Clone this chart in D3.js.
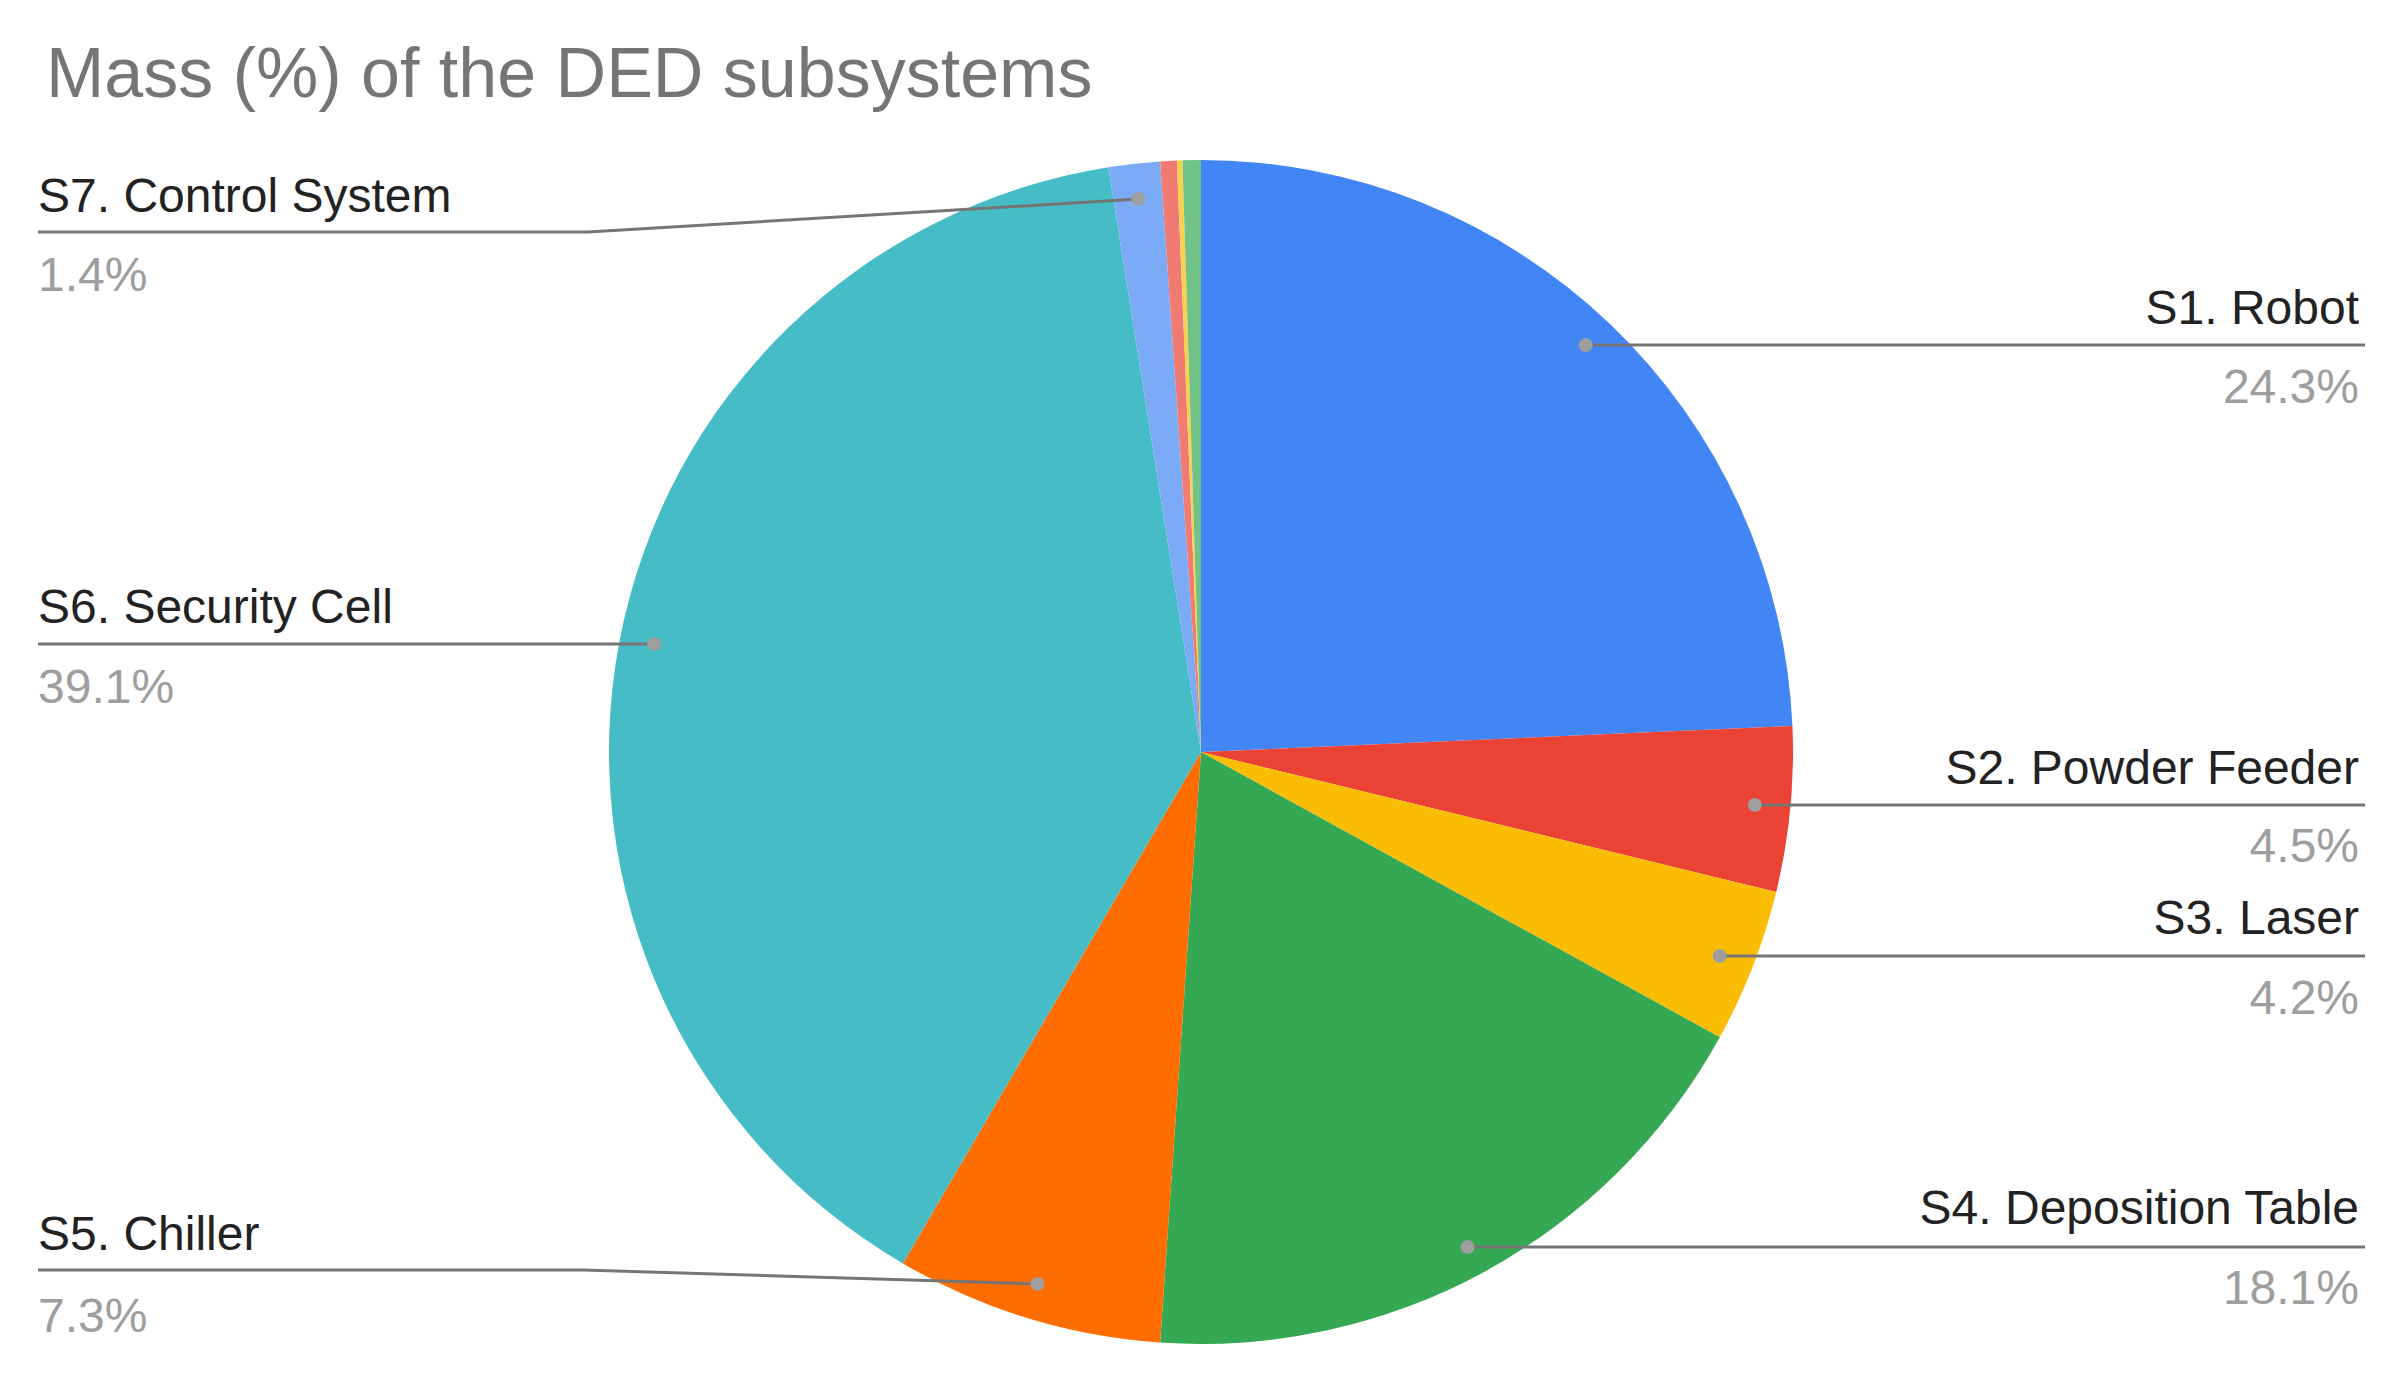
<!DOCTYPE html>
<html><head><meta charset="utf-8">
<script src="https://cdn.jsdelivr.net/npm/d3@7"></script>
<style>body{margin:0;background:#fff}svg{display:block;font-family:"Liberation Sans",Arial,sans-serif}</style>
</head><body><svg id="c" width="2398" height="1380"></svg>
<script>
const categories = ["S1. Robot","S2. Powder Feeder","S3. Laser","S4. Deposition Table","S5. Chiller","S6. Security Cell","S7. Control System","S8","S9","S10"];
const values = [24.3,4.5,4.2,18.1,7.3,39.1,1.4,0.45,0.15,0.5];
const valueLabels = ["24.3%","4.5%","4.2%","18.1%","7.3%","39.1%","1.4%"];
const colors = ["#4285f4","#ea4335","#fbbc04","#34a853","#ff6d01","#46bdc6","#7baaf7","#f07b72","#fcd04f","#71c287"];

const svg = d3.select("#c");
const cx = 1201, cy = 752, r = 592;
svg.append("text").attr("x",46).attr("y",97).attr("font-size",70).attr("fill","#757575").text("Mass (%) of the DED subsystems");

const pie = d3.pie().sort(null).value(d=>d);
const arcs = pie(values);
const arc = d3.arc().innerRadius(0).outerRadius(r);
const g = svg.append("g").attr("transform",`translate(${cx},${cy})`);
g.selectAll("path").data(arcs).join("path").attr("d",arc).attr("fill",(d,i)=>colors[i]);

// label layout: side, label baseline, line y, elbow x
const layout = [
 {side:"R", y:324, ly:345, vy:403},
 {side:"R", y:784, ly:805, vy:862},
 {side:"R", y:934, ly:956, vy:1014},
 {side:"R", y:1224, ly:1247, vy:1304},
 {side:"L", y:1250, ly:1270, vy:1332, ex:583},
 {side:"L", y:623, ly:644, vy:703},
 {side:"L", y:212, ly:232, vy:291, ex:588}
];
const dotArc = d3.arc().innerRadius(r*0.95).outerRadius(r*0.95);
const lines = svg.append("g");
layout.forEach((L,i)=>{
  const a = arcs[i], m=(a.startAngle+a.endAngle)/2;
  const dx = cx + Math.sin(m)*r*0.94, dy = cy - Math.cos(m)*r*0.94;
  const endX = L.side==="R"?2365:38;
  const ex = L.ex!==undefined?L.ex:dx;
  const pts = L.ex!==undefined?[[dx,dy],[ex,L.ly],[endX,L.ly]]:[[dx,L.ly],[endX,L.ly]];
  lines.append("path").attr("d",d3.line()(pts)).attr("fill","none").attr("stroke","#757575").attr("stroke-width",3);
  lines.append("circle").attr("cx",dx).attr("cy",L.ex!==undefined?dy:L.ly).attr("r",7).attr("fill","#9e9e9e");
  const tx = L.side==="R"?2359:38, anc = L.side==="R"?"end":"start";
  svg.append("text").attr("x",tx).attr("y",L.y).attr("text-anchor",anc).attr("font-size",48).attr("fill","#222").text(categories[i]);
  svg.append("text").attr("x",tx).attr("y",L.vy).attr("text-anchor",anc).attr("font-size",48).attr("fill","#9e9e9e").text(valueLabels[i]);
});
</script></body></html>
